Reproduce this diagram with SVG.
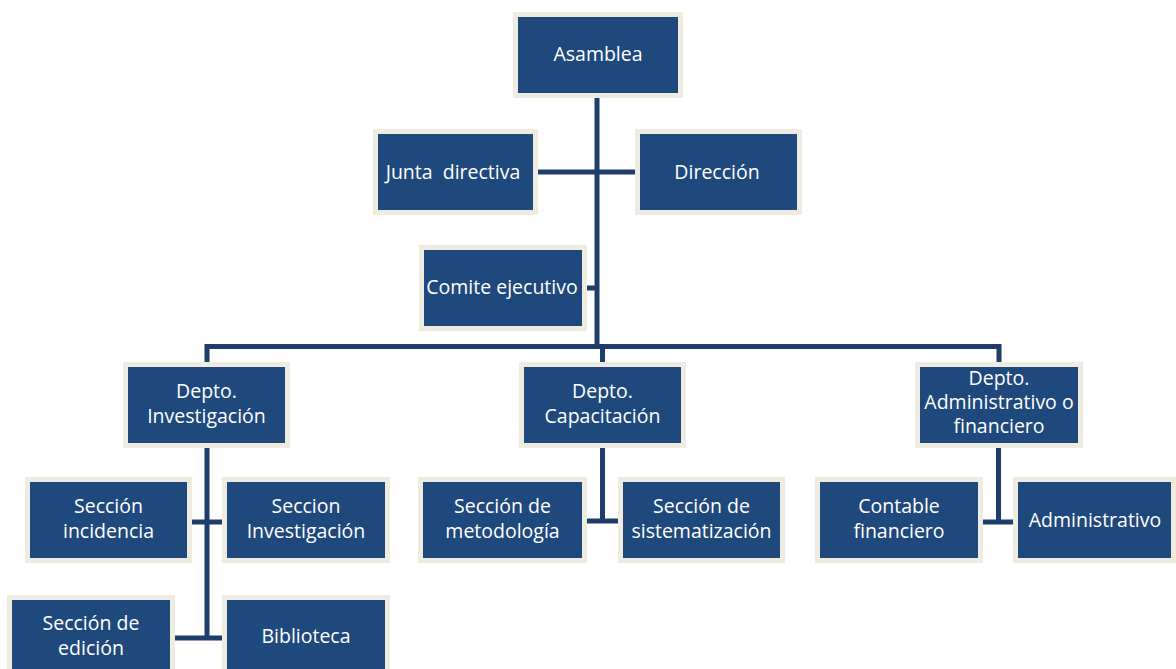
<svg xmlns="http://www.w3.org/2000/svg" width="1176" height="669" viewBox="0 0 1176 669">
<style>
.box{fill:#1F497D;stroke:#EEECE1;stroke-width:5}
.t{font-family:"Open Sans","Noto Sans",sans-serif;font-size:19.5px;fill:#FFFFFF;text-anchor:middle}
.c{stroke:#1F3D6B;stroke-width:5;fill:none}
</style>
<rect width="1176" height="669" fill="#FFFFFF"/>
<g id="connectors">
<path class="c" d="M597 98V347"/>
<path class="c" d="M538 172H635"/>
<path class="c" d="M587 288H597"/>
<path class="c" d="M207 362V346.5H999V362"/>
<path class="c" d="M602.5 346.5V362"/>
<path class="c" d="M207 448V638"/>
<path class="c" d="M192 522H222"/>
<path class="c" d="M175 638H222"/>
<path class="c" d="M602.5 448V521"/>
<path class="c" d="M587 521H618"/>
<path class="c" d="M998.5 448V522"/>
<path class="c" d="M983 522H1013"/>
</g>
<g id="asamblea"><rect class="box" x="515.5" y="14.5" width="165" height="81"/><text class="t" x="598" y="61">Asamblea</text></g>
<g id="junta"><rect class="box" x="375.5" y="131.5" width="160" height="81"/><text class="t" x="453" y="179">Junta&#160; directiva</text></g>
<g id="direccion"><rect class="box" x="637.5" y="131.5" width="162" height="81"/><text class="t" x="717" y="179">Dirección</text></g>
<g id="comite"><rect class="box" x="421.5" y="247.5" width="163" height="81"/><text class="t" x="502" y="294">Comite ejecutivo</text></g>
<g id="depto-inv"><rect class="box" x="125.5" y="364.5" width="162" height="81"/><text class="t" x="206.5" y="398">Depto.</text><text class="t" x="206.5" y="423">Investigación</text></g>
<g id="depto-cap"><rect class="box" x="521.5" y="364.5" width="162" height="81"/><text class="t" x="602.5" y="398">Depto.</text><text class="t" x="602.5" y="423">Capacitación</text></g>
<g id="depto-adm"><rect class="box" x="917.5" y="364.5" width="163" height="81"/><text class="t" x="999" y="385">Depto.</text><text class="t" x="999" y="409">Administrativo o</text><text class="t" x="999" y="433">financiero</text></g>
<g id="sec-incidencia"><rect class="box" x="27.5" y="479.5" width="162" height="81"/><text class="t" x="108.5" y="513">Sección</text><text class="t" x="108.5" y="538">incidencia</text></g>
<g id="sec-investigacion"><rect class="box" x="224.5" y="479.5" width="163" height="81"/><text class="t" x="306" y="513">Seccion</text><text class="t" x="306" y="538">Investigación</text></g>
<g id="sec-edicion"><rect class="box" x="9.5" y="597.5" width="163" height="81"/><text class="t" x="91" y="630">Sección de</text><text class="t" x="91" y="655">edición</text></g>
<g id="biblioteca"><rect class="box" x="224.5" y="597.5" width="163" height="81"/><text class="t" x="306" y="643">Biblioteca</text></g>
<g id="sec-metodologia"><rect class="box" x="420.5" y="479.5" width="164" height="81"/><text class="t" x="502.5" y="513">Sección de</text><text class="t" x="502.5" y="538">metodología</text></g>
<g id="sec-sistematizacion"><rect class="box" x="620.5" y="479.5" width="162" height="81"/><text class="t" x="701.5" y="513">Sección de</text><text class="t" x="701.5" y="538">sistematización</text></g>
<g id="contable"><rect class="box" x="817.5" y="479.5" width="163" height="81"/><text class="t" x="899" y="513">Contable</text><text class="t" x="899" y="538">financiero</text></g>
<g id="administrativo"><rect class="box" x="1015.5" y="479.5" width="158" height="81"/><text class="t" x="1095" y="527">Administrativo</text></g>
</svg>
